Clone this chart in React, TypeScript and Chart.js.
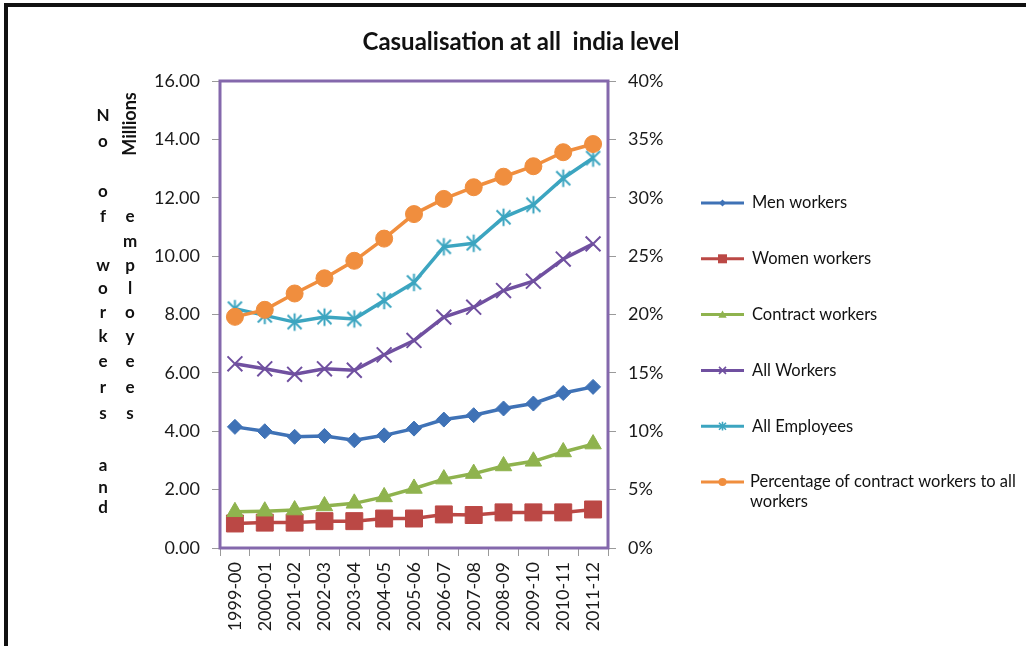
import React, { useEffect, useRef } from 'react';
import { Chart, registerables } from 'chart.js';

Chart.register(...registerables);

// Survey years
const categories = [
  '1999-00', '2000-01', '2001-02', '2002-03', '2003-04', '2004-05', '2005-06',
  '2006-07', '2007-08', '2008-09', '2009-10', '2010-11', '2011-12',
];

// Number of workers and employees, in millions
const menWorkers = [4.15, 4.0, 3.81, 3.84, 3.69, 3.86, 4.09, 4.4, 4.55, 4.78, 4.95, 5.31, 5.52];
const womenWorkers = [0.84, 0.87, 0.87, 0.92, 0.92, 1.01, 1.01, 1.15, 1.13, 1.22, 1.22, 1.22, 1.32];
const contractWorkers = [1.24, 1.26, 1.3, 1.44, 1.53, 1.75, 2.04, 2.36, 2.55, 2.81, 2.97, 3.29, 3.56];
const allWorkers = [6.31, 6.14, 5.95, 6.14, 6.09, 6.62, 7.11, 7.91, 8.25, 8.82, 9.14, 9.9, 10.42];
const allEmployees = [8.2, 7.97, 7.74, 7.91, 7.85, 8.48, 9.1, 10.32, 10.44, 11.33, 11.76, 12.67, 13.36];

// Share of contract workers in all workers, percent (right axis)
const contractShare = [19.8, 20.4, 21.8, 23.1, 24.6, 26.5, 28.6, 29.9, 30.9, 31.8, 32.7, 33.9, 34.6];

const seriesNames = [
  'Men workers',
  'Women workers',
  'Contract workers',
  'All Workers',
  'All Employees',
  'Percentage of contract workers to all workers',
];

const titleText = 'Casualisation at all  india level';

// Stacked letters of the left axis caption, two columns
const captionColumnA = ['N', 'o', '', 'o', 'f', '', 'w', 'o', 'r', 'k', 'e', 'r', 's', '', 'a', 'n', 'd'];
const captionColumnB = ['e', 'm', 'p', 'l', 'o', 'y', 'e', 'e', 's'];

const COLORS = {
  men: '#3F72B6',
  women: '#BB4845',
  contract: '#8FB34E',
  all: '#7050A0',
  employees: '#3CA5C0',
  share: '#F08E3E',
  frame: '#8468AC',
};

const FONT = 'Lato';

type MarkerKind = 'rectRot' | 'rect' | 'triangle' | 'crossRot' | 'asterisk' | 'circle';

function drawMarker(ctx: CanvasRenderingContext2D, kind: MarkerKind, x: number, y: number, r: number, color: string) {
  ctx.save();
  ctx.fillStyle = color;
  ctx.strokeStyle = color;
  ctx.lineWidth = 1.6;
  ctx.beginPath();
  switch (kind) {
    case 'rectRot':
      ctx.moveTo(x - r, y);
      ctx.lineTo(x, y - r);
      ctx.lineTo(x + r, y);
      ctx.lineTo(x, y + r);
      ctx.closePath();
      ctx.fill();
      break;
    case 'rect':
      ctx.rect(x - r, y - r, 2 * r, 2 * r);
      ctx.fill();
      break;
    case 'triangle':
      ctx.moveTo(x, y - r);
      ctx.lineTo(x + r * 1.05, y + r * 0.8);
      ctx.lineTo(x - r * 1.05, y + r * 0.8);
      ctx.closePath();
      ctx.fill();
      break;
    case 'circle':
      ctx.arc(x, y, r, 0, Math.PI * 2);
      ctx.fill();
      break;
    case 'crossRot':
      ctx.moveTo(x - r, y - r);
      ctx.lineTo(x + r, y + r);
      ctx.moveTo(x + r, y - r);
      ctx.lineTo(x - r, y + r);
      ctx.stroke();
      break;
    case 'asterisk':
      ctx.moveTo(x - r, y - r);
      ctx.lineTo(x + r, y + r);
      ctx.moveTo(x + r, y - r);
      ctx.lineTo(x - r, y + r);
      ctx.moveTo(x, y - r * 1.25);
      ctx.lineTo(x, y + r * 1.25);
      ctx.stroke();
      break;
  }
  ctx.restore();
}

// Asterisk marker (X with a vertical bar) used as a Chart.js point image
function makeAsterisk(color: string, half: number, lw: number): HTMLCanvasElement {
  const size = Math.ceil(half * 2.6 + lw * 2);
  const c = document.createElement('canvas');
  c.width = size;
  c.height = size;
  const ctx = c.getContext('2d')!;
  const m = size / 2;
  ctx.strokeStyle = color;
  ctx.lineWidth = lw;
  ctx.lineCap = 'butt';
  ctx.beginPath();
  ctx.moveTo(m - half, m - half);
  ctx.lineTo(m + half, m + half);
  ctx.moveTo(m + half, m - half);
  ctx.lineTo(m - half, m + half);
  ctx.moveTo(m, m - half * 1.25);
  ctx.lineTo(m, m + half * 1.25);
  ctx.stroke();
  return c;
}

const legendMarkers: MarkerKind[] = ['rectRot', 'rect', 'triangle', 'crossRot', 'asterisk', 'circle'];
const legendColors = [COLORS.men, COLORS.women, COLORS.contract, COLORS.all, COLORS.employees, COLORS.share];
const legendMarkerSize = [3.5, 4.5, 4, 3.5, 3.5, 4];

const framePlugin = {
  id: 'pageFrame',
  beforeDraw(chart: Chart) {
    const ctx = chart.ctx;
    ctx.save();
    ctx.fillStyle = '#ffffff';
    ctx.fillRect(0, 0, chart.width, chart.height);
    ctx.fillStyle = '#111111';
    ctx.fillRect(4, 3, chart.width - 4, 4);
    ctx.fillRect(4, 3, 4, chart.height - 3);
    ctx.restore();
  },
};

const plotBorderPlugin = {
  id: 'plotBorder',
  beforeDatasetsDraw(chart: Chart) {
    const { left, top, right, bottom } = chart.chartArea;
    const ctx = chart.ctx;
    ctx.save();
    ctx.strokeStyle = COLORS.frame;
    ctx.lineWidth = 3;
    ctx.strokeRect(left, top, right - left, bottom - top);
    ctx.restore();
  },
};

const textPlugin = {
  id: 'chartTexts',
  afterDraw(chart: Chart) {
    const ctx = chart.ctx;
    ctx.save();
    // title
    ctx.fillStyle = '#111111';
    ctx.font = `bold 24px ${FONT}`;
    ctx.textAlign = 'center';
    ctx.textBaseline = 'middle';
    ctx.fillText(titleText, 521, 42);

    // rotated unit label
    ctx.save();
    ctx.translate(130, 124);
    ctx.rotate(-Math.PI / 2);
    ctx.font = `bold 18px ${FONT}`;
    ctx.fillText('Millions', 0, 0);
    ctx.restore();

    // stacked caption letters
    ctx.font = `bold 17px ${FONT}`;
    const rowA = [116, 142, 167, 192, 217, 242, 266, 289, 313, 337, 362, 388, 414, 440, 466, 488, 508];
    captionColumnA.forEach((ch, i) => {
      if (ch) ctx.fillText(ch, 103, rowA[i]);
    });
    const rowB = [217, 242, 266, 289, 313, 337, 362, 388, 414];
    captionColumnB.forEach((ch, i) => ctx.fillText(ch, 130, rowB[i]));

    // legend
    ctx.textAlign = 'left';
    ctx.font = `16.5px ${FONT}`;
    const lineX0 = 701;
    const lineX1 = 744;
    const textX = 752;
    const maxW = 1020 - textX;
    chart.data.datasets.forEach((ds, i) => {
      const y = 203 + i * 55.8;
      const color = legendColors[i];
      ctx.strokeStyle = color;
      ctx.lineWidth = 3;
      ctx.beginPath();
      ctx.moveTo(lineX0, y);
      ctx.lineTo(lineX1, y);
      ctx.stroke();
      drawMarker(ctx, legendMarkers[i], (lineX0 + lineX1) / 2, y, legendMarkerSize[i], color);
      ctx.fillStyle = '#111111';
      const words = String(ds.label).split(' ');
      const lines: string[] = [];
      let cur = '';
      words.forEach((w) => {
        const t = cur ? cur + ' ' + w : w;
        if (ctx.measureText(t).width > maxW && cur) {
          lines.push(cur);
          cur = w;
        } else cur = t;
      });
      if (cur) lines.push(cur);
      const lx = lines.length > 1 ? textX - 2 : textX;
      lines.forEach((ln, k) => ctx.fillText(ln, lx, y + k * 20));
    });
    ctx.restore();
  },
};

export default function App() {
  const canvasRef = useRef<HTMLCanvasElement | null>(null);

  useEffect(() => {
    const canvas = canvasRef.current;
    if (!canvas) return;
    const asterisk = makeAsterisk(COLORS.employees, 7, 2);

    const base = {
      borderWidth: 3.5,
      tension: 0,
      pointBorderWidth: 1,
    };

    const chart = new Chart(canvas, {
      type: 'line',
      data: {
        labels: categories,
        datasets: [
          {
            ...base,
            label: seriesNames[0],
            data: menWorkers,
            borderColor: COLORS.men,
            backgroundColor: COLORS.men,
            pointStyle: 'rectRot',
            pointRadius: 7.5,
            yAxisID: 'y',
            order: 6,
          },
          {
            ...base,
            label: seriesNames[1],
            data: womenWorkers,
            borderColor: COLORS.women,
            backgroundColor: COLORS.women,
            pointStyle: 'rect',
            pointRadius: 12,
            yAxisID: 'y',
            order: 5,
          },
          {
            ...base,
            label: seriesNames[2],
            data: contractWorkers,
            borderColor: COLORS.contract,
            backgroundColor: COLORS.contract,
            pointStyle: 'triangle',
            pointRadius: 9.5,
            yAxisID: 'y',
            order: 4,
          },
          {
            ...base,
            label: seriesNames[3],
            data: allWorkers,
            borderColor: COLORS.all,
            backgroundColor: COLORS.all,
            pointStyle: 'crossRot',
            pointRadius: 10.5,
            pointBorderWidth: 2,
            yAxisID: 'y',
            order: 3,
          },
          {
            ...base,
            label: seriesNames[4],
            data: allEmployees,
            borderColor: COLORS.employees,
            backgroundColor: COLORS.employees,
            pointStyle: asterisk,
            pointRadius: 8,
            yAxisID: 'y',
            order: 2,
          },
          {
            ...base,
            label: seriesNames[5],
            data: contractShare,
            borderColor: COLORS.share,
            backgroundColor: COLORS.share,
            pointStyle: 'circle',
            pointRadius: 8.5,
            yAxisID: 'y1',
            order: 1,
          },
        ],
      },
      options: {
        responsive: false,
        animation: false,
        events: [],
        layout: { padding: { top: 81, left: 0, right: 0, bottom: 0 } },
        plugins: {
          legend: { display: false },
          title: { display: false },
          tooltip: { enabled: false },
        },
        scales: {
          x: {
            offset: true,
            border: { display: false },
            grid: {
              drawOnChartArea: false,
              drawTicks: true,
              tickLength: 8,
              color: '#9a9a9a',
              offset: true,
            },
            ticks: {
              autoSkip: false,
              minRotation: 90,
              maxRotation: 90,
              padding: 6,
              color: '#1a1a1a',
              font: { family: FONT, size: 18 },
            },
            afterFit: (scale: any) => {
              scale.height = 98;
            },
          },
          y: {
            position: 'left',
            min: 0,
            max: 16,
            border: { display: false },
            grid: { drawOnChartArea: false, tickLength: 8, color: '#9a9a9a' },
            ticks: {
              stepSize: 2,
              padding: 12,
              color: '#1a1a1a',
              font: { family: FONT, size: 18 },
              callback: (v: any) => Number(v).toFixed(2),
            },
            afterFit: (scale: any) => {
              scale.width = 220;
            },
          },
          y1: {
            position: 'right',
            min: 0,
            max: 40,
            border: { display: false },
            grid: { drawOnChartArea: false, tickLength: 8, color: '#9a9a9a' },
            ticks: {
              stepSize: 5,
              padding: 12,
              color: '#1a1a1a',
              font: { family: FONT, size: 18 },
              callback: (v: any) => `${v}%`,
            },
            afterFit: (scale: any) => {
              scale.width = 418;
            },
          },
        },
      },
      plugins: [framePlugin, plotBorderPlugin, textPlugin],
    });

    return () => chart.destroy();
  }, []);

  return (
    <div style={{ position: 'fixed', left: 0, top: 0, width: 1026, height: 646, background: '#fff' }}>
      <canvas ref={canvasRef} width={1026} height={646} style={{ display: 'block', width: 1026, height: 646 }} />
    </div>
  );
}
